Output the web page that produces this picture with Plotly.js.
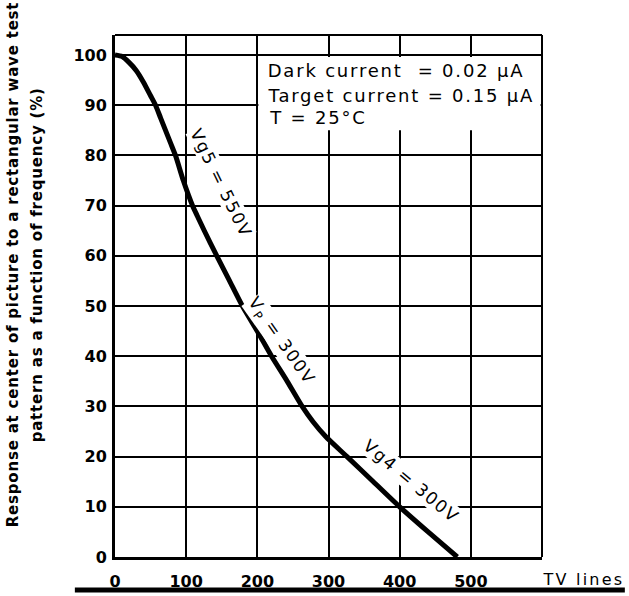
<!DOCTYPE html>
<html>
<head>
<meta charset="utf-8">
<script src="https://cdn.plot.ly/plotly-3.0.1.min.js"></script>
<style>
html,body{margin:0;padding:0;background:#fff;}
#chart{width:629px;height:596px;}
.annotation-text{letter-spacing:1.6px;}
.annotation[data-index="0"] .annotation-text,.annotation[data-index="1"] .annotation-text{letter-spacing:0.8px;}
.annotation[data-index="2"] .annotation-text{letter-spacing:2.2px;}
.annotation[data-index="3"] .annotation-text,.annotation[data-index="4"] .annotation-text,.annotation[data-index="5"] .annotation-text{letter-spacing:1.8px;}
</style>
</head>
<body>
<div id="chart"></div>
<script>
// Data
const tvLines = [0, 10, 20, 30, 40, 50, 57, 64, 71, 78, 85, 96, 103.5, 109, 115.5, 125.5, 143, 161, 179, 200, 220, 242, 263, 278, 296, 326, 363, 400, 440, 481];
const response = [100, 99.7, 98.5, 96.9, 94.6, 91.9, 90, 87.5, 85, 82.5, 80, 75, 72, 70, 68, 65, 60, 55, 50, 45, 40, 35, 30, 27, 24, 20, 15, 10, 5, 0];

const xTickVals = [0, 100, 200, 300, 400, 500];
const xTickText = ['0', '100', '200', '300', '400', '500'];
const yTickVals = [0, 10, 20, 30, 40, 50, 60, 70, 80, 90, 100];
const yTickText = ['0', '10', '20', '30', '40', '50', '60', '70', '80', '90', '100'];

const yTitleLines = ['Response at center of picture to a rectangular wave test', 'pattern as a function of frequency (%)'];
const xUnitLabel = 'TV lines';
const boxLines = ['Dark current  = 0.02 μA', 'Target current = 0.15 μA', 'T = 25°C'];
const curveLabels = ['Vg5 = 550V', 'V<sub>P</sub> = 300V', 'Vg4 = 300V'];
const curveLabelX = [149, 233.5, 416];
const curveLabelY = [74.5, 43, 15.1];
const curveLabelAngle = [64, 55, 40];

const F = 'DejaVu Sans, sans-serif';

const annotations = [];
yTitleLines.forEach((t, i) => {
  annotations.push({
    xref: 'paper', yref: 'paper',
    x: i === 0 ? -0.239 : -0.183, y: 0.56,
    text: '<b>' + t + '</b>', showarrow: false, textangle: -90,
    xanchor: 'center', yanchor: 'middle',
    font: {family: F, size: 15, color: '#000'}
  });
});
annotations.push({
  xref: 'paper', yref: 'paper', x: 1.097, y: -0.044,
  text: xUnitLabel, showarrow: false, xanchor: 'center', yanchor: 'middle',
  font: {family: F, size: 16, color: '#000'}
});
const boxY = [97.0, 92.0, 87.5];
boxLines.forEach((t, i) => {
  annotations.push({
    xref: 'x', yref: 'y', x: 215, y: boxY[i],
    text: t, showarrow: false, xanchor: 'left', yanchor: 'middle',
    font: {family: F, size: 18, color: '#000'}
  });
});
curveLabels.forEach((t, i) => {
  annotations.push({
    xref: 'x', yref: 'y', x: curveLabelX[i], y: curveLabelY[i],
    text: t, showarrow: false, textangle: curveLabelAngle[i],
    xanchor: 'center', yanchor: 'middle', bgcolor: '#fff', borderpad: 0,
    font: {family: F, size: 17, color: '#000'}
  });
});

const trace = {
  x: tvLines, y: response, type: 'scatter', mode: 'lines',
  line: {color: '#000', width: 5, shape: 'spline', smoothing: 0.6},
  hoverinfo: 'skip'
};

const layout = {
  width: 629, height: 596,
  margin: {l: 115, r: 87, t: 35, b: 39},
  paper_bgcolor: '#fff', plot_bgcolor: '#fff',
  showlegend: false,
  xaxis: {
    range: [0, 600], tickvals: xTickVals, ticktext: xTickText,
    showgrid: true, gridcolor: '#000', gridwidth: 2,
    showline: true, linecolor: '#000', linewidth: 3,
    zeroline: false, ticks: '', ticklabelstandoff: 8,
    tickfont: {family: F, size: 16, color: '#000', weight: 'bold'}
  },
  yaxis: {
    range: [0, 104], tickvals: yTickVals, ticktext: yTickText,
    showgrid: true, gridcolor: '#000', gridwidth: 2,
    showline: true, linecolor: '#000', linewidth: 3,
    zeroline: false, ticks: '', ticklabelstandoff: 2,
    tickfont: {family: F, size: 16, color: '#000', weight: 'bold'}
  },
  shapes: [
    {type: 'line', xref: 'paper', yref: 'paper', x0: 0, x1: 1, y0: 1, y1: 1, line: {color: '#000', width: 2}},
    {type: 'line', xref: 'paper', yref: 'paper', x0: 1, x1: 1, y0: 0, y1: 1, line: {color: '#000', width: 2}},
    {type: 'rect', xref: 'x', yref: 'y', x0: 201.5, x1: 598, y0: 85, y1: 99.6, layer: 'above', fillcolor: '#fff', line: {width: 0}},
    {type: 'line', xref: 'paper', yref: 'paper', x0: -0.094, x1: 1.194, y0: -0.063, y1: -0.063, line: {color: '#000', width: 5}}
  ],
  annotations: annotations
};

Plotly.newPlot('chart', [trace], layout, {staticPlot: true, displayModeBar: false});
</script>
</body>
</html>
